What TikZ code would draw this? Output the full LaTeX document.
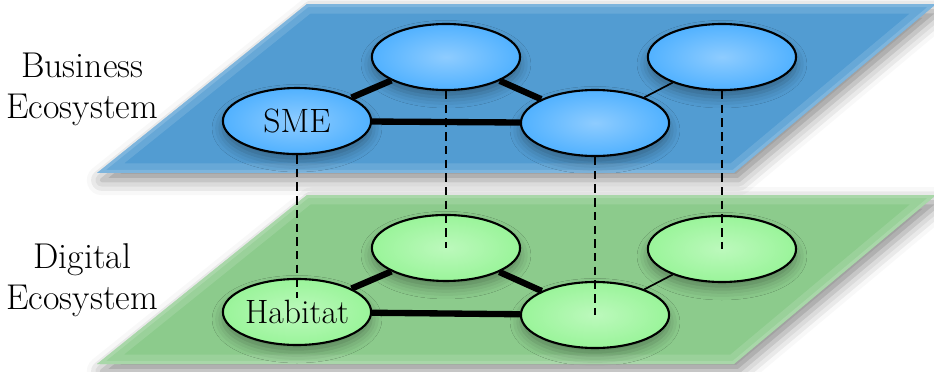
\documentclass[tikz,border=0pt]{standalone}
\usepackage{tikz}
\usetikzlibrary{shapes.geometric, shadows.blur}

\definecolor{planeblue}{HTML}{529CD2}
\definecolor{planegreen}{HTML}{8CCB8C}
\definecolor{nodeblue}{HTML}{1E9BFF}
\definecolor{nodeblueC}{HTML}{8ECCFF}
\definecolor{nodegreen}{HTML}{7DF07D}
\definecolor{nodegreenC}{HTML}{BCF9BC}

\pgfdeclareradialshading{blueball}{\pgfpoint{0bp}{0bp}}{color(0bp)=(nodeblueC); color(46bp)=(nodeblue); color(50bp)=(nodeblue)}
\pgfdeclareradialshading{greenball}{\pgfpoint{0bp}{0bp}}{color(0bp)=(nodegreenC); color(46bp)=(nodegreen); color(50bp)=(nodegreen)}

\tikzstyle{plane} = [blur shadow={shadow xshift=0.08cm, shadow yshift=-0.12cm, shadow blur radius=0.25cm, shadow opacity=45}]
\tikzstyle{agent} = [ellipse, draw=black, line width=1pt, minimum width=2.47cm, minimum height=1.1cm, inner sep=0pt, font=\fontsize{16}{19}\selectfont, blur shadow={shadow xshift=0cm, shadow yshift=-0.12cm, shadow blur radius=0.18cm, shadow opacity=35}]
\tikzstyle{bizagent} = [agent, shading=blueball]
\tikzstyle{digagent} = [agent, shading=greenball]
\tikzstyle{strong} = [line width=3pt]
\tikzstyle{weak} = [line width=0.8pt]
\tikzstyle{link} = [line width=0.9pt, dash pattern=on 4pt off 2.5pt]
\tikzstyle{layerlabel} = [align=center, font=\fontsize{17}{19.5}\selectfont]

\begin{document}
\begin{tikzpicture}

\useasboundingbox (0,0) rectangle (15.567,-6.2);

% Plane corners
\coordinate (bizSW) at (1.617,-2.883);
\coordinate (bizSE) at (12.233,-2.883);
\coordinate (bizNE) at (15.6,-0.067);
\coordinate (bizNW) at (5.117,-0.067);
\coordinate (digSW) at (1.617,-6.067);
\coordinate (digSE) at (12.233,-6.067);
\coordinate (digNE) at (15.6,-3.25);
\coordinate (digNW) at (5.117,-3.25);

% Business plane
\fill [planeblue, plane] (bizSW) -- (bizSE) -- (bizNE) -- (bizNW) -- cycle;
\begin{scope}
\clip (bizSW) -- (bizSE) -- (bizNE) -- (bizNW) -- cycle;
\draw [planeblue!50!white, line width=9pt, opacity=0.25] (bizSW) -- (bizSE) -- (bizNE) -- (bizNW) -- cycle;
\draw [planeblue!50!white, line width=3pt, opacity=0.35] (bizSW) -- (bizSE) -- (bizNE) -- (bizNW) -- cycle;
\end{scope}

% Digital plane
\fill [planegreen, plane] (digSW) -- (digSE) -- (digNE) -- (digNW) -- cycle;
\begin{scope}
\clip (digSW) -- (digSE) -- (digNE) -- (digNW) -- cycle;
\draw [planegreen!50!white, line width=9pt, opacity=0.25] (digSW) -- (digSE) -- (digNE) -- (digNW) -- cycle;
\draw [planegreen!50!white, line width=3pt, opacity=0.35] (digSW) -- (digSE) -- (digNE) -- (digNW) -- cycle;
\end{scope}

% Digital ecosystem
\node (habitat) [digagent] at (4.95,-5.2) {Habitat};
\node (digA) [digagent] at (7.433,-4.133) {};
\node (digB) [digagent] at (9.917,-5.25) {};
\node (digC) [digagent] at (12.033,-4.15) {};

\draw [strong] (habitat) -- (digA);
\draw [strong] (habitat) -- (digB);
\draw [strong] (digA) -- (digB);
\draw [weak] (digB) -- (digC);

% Business ecosystem
\node (sme) [bizagent] at (4.95,-2.017) {SME};
\node (bizA) [bizagent] at (7.433,-0.95) {};
\node (bizB) [bizagent] at (9.917,-2.05) {};
\node (bizC) [bizagent] at (12.033,-0.95) {};

\draw [strong] (sme) -- (bizA);
\draw [strong] (sme) -- (bizB);
\draw [strong] (bizA) -- (bizB);
\draw [weak] (bizB) -- (bizC);

% Links between layers
\draw [link, shorten >=0.23cm] (sme.south) -- (habitat.center);
\draw [link] (bizA.south) -- (digA.center);
\draw [link] (bizB.south) -- (digB.center);
\draw [link] (bizC.south) -- (digC.center);

% Layer labels
\node (bizlabel) [layerlabel] at (1.37,-1.49) {Business\\Ecosystem};
\node (diglabel) [layerlabel] at (1.37,-4.67) {Digital\\Ecosystem};

\end{tikzpicture}
\end{document}
